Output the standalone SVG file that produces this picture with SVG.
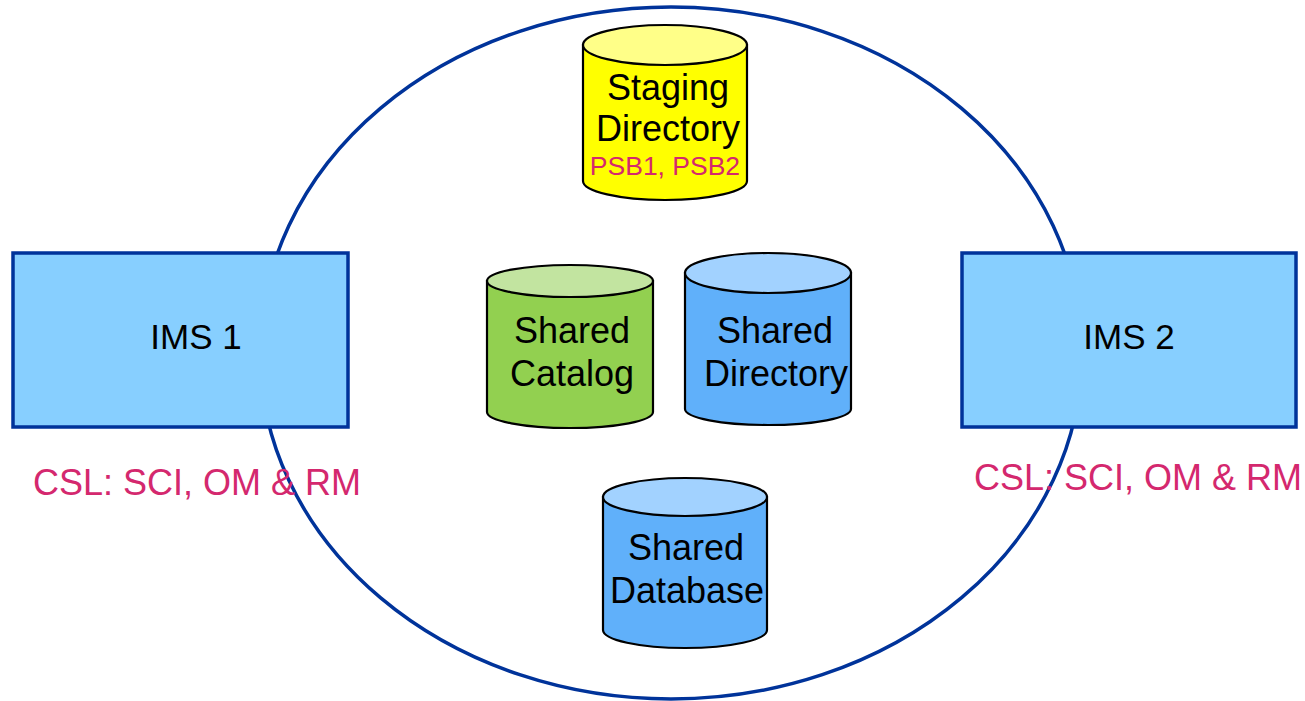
<svg xmlns="http://www.w3.org/2000/svg" width="1305" height="701" viewBox="0 0 1305 701">
<style>
.lbl{font-family:"Liberation Sans",Arial,sans-serif;font-size:36px;fill:#000;text-anchor:middle}
.ims{font-size:35px}
.csl{font-family:"Liberation Sans",Arial,sans-serif;font-size:36px;fill:#D4286E}
.psb{font-family:"Liberation Sans",Arial,sans-serif;font-size:26.5px;fill:#D4286E;text-anchor:middle}
.box{fill:#87CFFF;stroke:#00339A;stroke-width:3.5}
.cyl{stroke:#000;stroke-width:2.2}
</style>
<rect width="1305" height="701" fill="#fff"/>
<ellipse id="sysplex" cx="671" cy="353" rx="411" ry="346" fill="none" stroke="#00339A" stroke-width="3.5"/>
<g id="connectors"></g>
<g id="ims1">
<rect class="box" x="13" y="253" width="335" height="174"/>
<text class="lbl ims" x="196" y="349">IMS 1</text>
</g>
<g id="ims2">
<rect class="box" x="962" y="253" width="334" height="174"/>
<text class="lbl ims" x="1129" y="349">IMS 2</text>
</g>
<g id="csl1"><text class="csl" x="33" y="495">CSL: SCI, OM &amp; RM</text></g>
<g id="csl2"><text class="csl" x="974" y="490">CSL: SCI, OM &amp; RM</text></g>
<g id="staging">
<path class="cyl" fill="#FFFF00" d="M583,45 V181 A82,19 0 0 0 747,181 V45 Z"/>
<ellipse class="cyl" fill="#FFFF88" cx="665" cy="45" rx="82" ry="20"/>
<text class="lbl" x="668" y="100">Staging</text>
<text class="lbl" x="668" y="141">Directory</text>
<text class="psb" x="665" y="175">PSB1, PSB2</text>
</g>
<g id="catalog">
<path class="cyl" fill="#92D050" d="M487,281 V412 A83,16 0 0 0 653,412 V281 Z"/>
<ellipse class="cyl" fill="#C2E4A0" cx="570" cy="281" rx="83" ry="16"/>
<text class="lbl" x="572" y="343">Shared</text>
<text class="lbl" x="572" y="386">Catalog</text>
</g>
<g id="directory">
<path class="cyl" fill="#60B0FA" d="M685,273 V409 A83,16 0 0 0 851,409 V273 Z"/>
<ellipse class="cyl" fill="#A2D2FF" cx="768" cy="273" rx="83" ry="20"/>
<text class="lbl" x="775" y="343">Shared</text>
<text class="lbl" x="776" y="386">Directory</text>
</g>
<g id="database">
<path class="cyl" fill="#60B0FA" d="M603,497 V630 A82,18 0 0 0 767,630 V497 Z"/>
<ellipse class="cyl" fill="#A2D2FF" cx="685" cy="497" rx="82" ry="19"/>
<text class="lbl" x="686" y="560">Shared</text>
<text class="lbl" x="687" y="603">Database</text>
</g>
</svg>
